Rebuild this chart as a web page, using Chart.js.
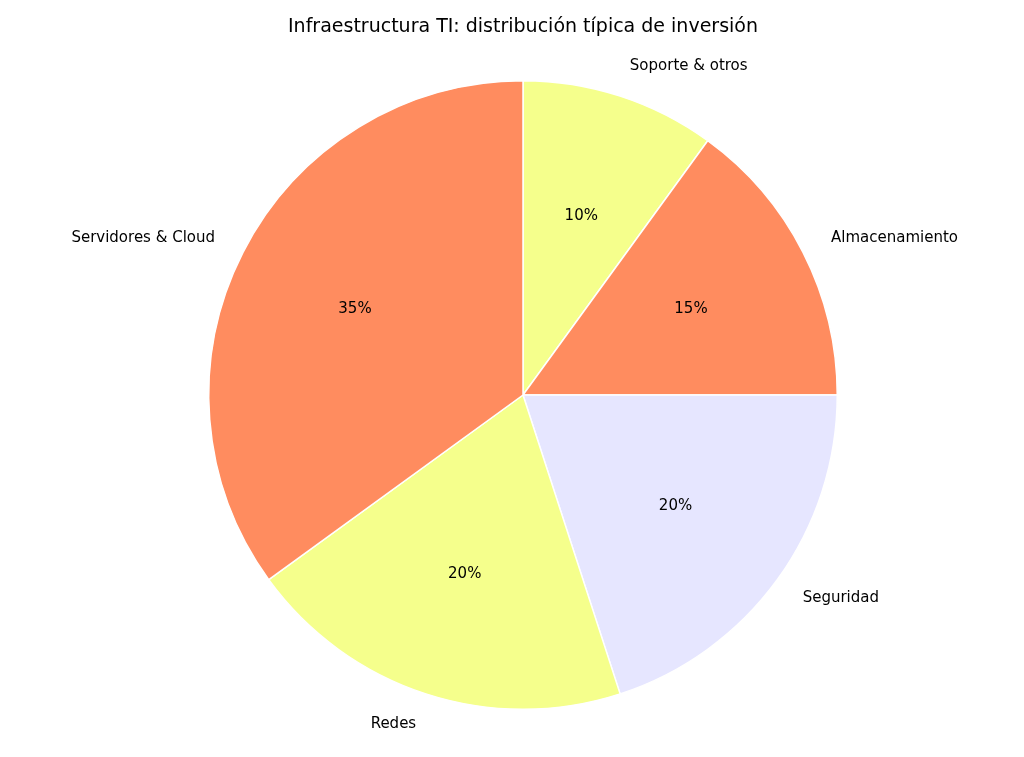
<!DOCTYPE html>
<html lang="es">
<head>
  <meta charset="utf-8">
  <title>Infraestructura TI</title>
  <style>
    html, body { margin: 0; padding: 0; background: #fff; }
    #wrap { width: 1024px; height: 757px; }
  </style>
</head>
<body>
  <div id="wrap"><canvas id="chart"></canvas></div>
  <script src="https://cdn.jsdelivr.net/npm/chart.js"></script>
  <script>
    // drawn clockwise from the top, so reversed vs. the original order
    var labels = ['Soporte & otros', 'Almacenamiento', 'Seguridad', 'Redes', 'Servidores & Cloud'];
    var values = [10, 15, 20, 20, 35];
    var colors = ['#f5ff8c', '#ff8c5f', '#e6e6ff', '#f5ff8c', '#ff8c5f'];
    var chartTitle = 'Infraestructura TI: distribución típica de inversión';

    var pieText = {
      id: 'pieText',
      afterDatasetsDraw: function (chart) {
        var ctx = chart.ctx;
        var meta = chart.getDatasetMeta(0);
        var total = values.reduce(function (a, b) { return a + b; }, 0);
        ctx.save();
        ctx.fillStyle = '#000';
        ctx.textBaseline = 'middle';
        ctx.font = '15px "DejaVu Sans"';
        meta.data.forEach(function (arc, i) {
          var mid = (arc.startAngle + arc.endAngle) / 2;
          var r = arc.outerRadius;
          var cx = Math.cos(mid), cy = Math.sin(mid);
          ctx.textAlign = 'center';
          ctx.fillText(Math.round(values[i] / total * 100) + '%', arc.x + cx * r * 0.6, arc.y + cy * r * 0.6);
          ctx.textAlign = cx > 0.01 ? 'left' : (cx < -0.01 ? 'right' : 'center');
          ctx.fillText(labels[i], arc.x + cx * r * 1.1, arc.y + cy * r * 1.1);
        });
        ctx.font = '19px "DejaVu Sans"';
        ctx.textAlign = 'center';
        ctx.fillText(chartTitle, 523, 27);
        ctx.restore();
      }
    };

    new Chart(document.getElementById('chart'), {
      type: 'pie',
      data: {
        labels: labels,
        datasets: [{
          data: values,
          backgroundColor: colors,
          borderColor: '#ffffff',
          borderWidth: 1.5
        }]
      },
      options: {
        responsive: true,
        maintainAspectRatio: false,
        animation: false,
        layout: { padding: { top: 80, bottom: 47, left: 100, right: 78 } },
        plugins: {
          legend: { display: false },
          tooltip: { enabled: false }
        }
      },
      plugins: [pieText]
    });
  </script>
</body>
</html>
